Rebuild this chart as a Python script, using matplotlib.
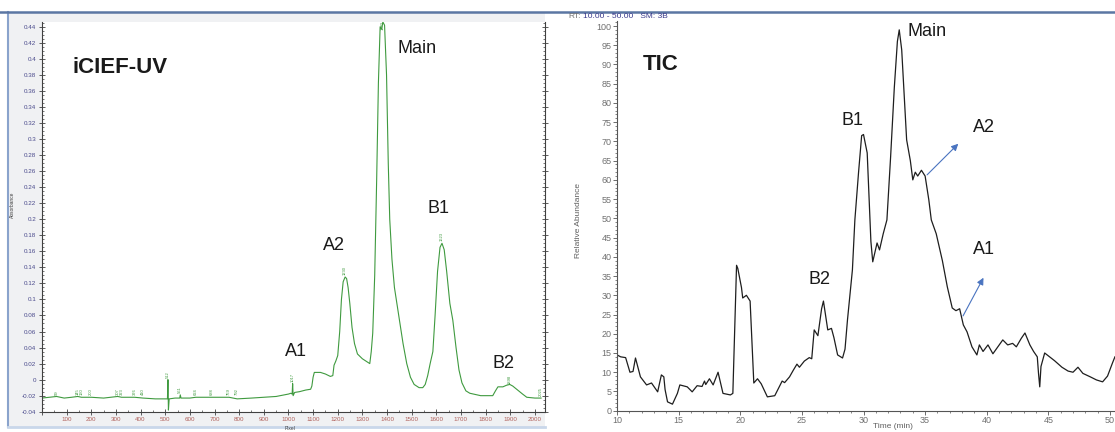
import matplotlib.pyplot as plt
import matplotlib.ticker as mticker
from matplotlib.patches import Rectangle
from matplotlib.lines import Line2D

plt.rcParams['font.family'] = ['Liberation Sans', 'DejaVu Sans']

# --- iCIEF-UV trace (x in pixel units, absorbance) ---
uv_pixel = [0, 30, 59, 90, 120, 145, 160, 200, 250, 307, 323, 376, 410, 460, 505,
            509, 511, 513, 516, 540, 559, 561, 564, 600, 624, 688, 759, 792, 850,
            900, 950, 1000, 1010, 1015, 1017, 1019, 1025, 1045, 1070, 1090, 1095,
            1100, 1105, 1130, 1150, 1170, 1180, 1185, 1192, 1200, 1208, 1215, 1222,
            1230, 1236, 1242, 1249, 1258, 1268, 1280, 1300, 1320, 1330, 1336, 1342,
            1350, 1358, 1365, 1372, 1378, 1383, 1390, 1398, 1405, 1411, 1420, 1430,
            1440, 1450, 1465, 1480, 1495, 1510, 1530, 1545, 1555, 1565, 1575, 1586,
            1595, 1605, 1615, 1623, 1632, 1642, 1655, 1667, 1680, 1692, 1704, 1720,
            1736, 1780, 1829, 1840, 1850, 1870, 1885, 1898, 1910, 1930, 1950, 1967,
            2000, 2025]
uv_abs = [-0.023, -0.022, -0.021, -0.023, -0.022, -0.021, -0.022, -0.022, -0.023,
          -0.021, -0.022, -0.022, -0.023, -0.024, -0.024, -0.024, 0.0, -0.038,
          -0.024, -0.023, -0.023, -0.019, -0.023, -0.023, -0.022, -0.022, -0.022,
          -0.024, -0.023, -0.022, -0.021, -0.018, -0.017, -0.018, -0.005, -0.02,
          -0.016, -0.015, -0.013, -0.012, -0.008, 0.003, 0.009, 0.009, 0.007, 0.004,
          0.005, 0.018, 0.023, 0.03, 0.06, 0.1, 0.122, 0.128, 0.126, 0.115, 0.095,
          0.065, 0.045, 0.032, 0.026, 0.022, 0.02, 0.035, 0.058, 0.13, 0.25, 0.37,
          0.44, 0.437, 0.446, 0.442, 0.38, 0.27, 0.2, 0.15, 0.115, 0.095, 0.075,
          0.045, 0.02, 0.003, -0.006, -0.01, -0.01, -0.006, 0.005, 0.02, 0.035, 0.08,
          0.135, 0.165, 0.17, 0.162, 0.135, 0.095, 0.074, 0.04, 0.012, -0.004,
          -0.014, -0.017, -0.02, -0.02, -0.014, -0.009, -0.009, -0.007, -0.006,
          -0.008, -0.013, -0.018, -0.022, -0.023, -0.023]

uv_peak_pos = [59, 145, 160, 200, 307, 323, 376, 410, 512, 561, 624, 688, 759, 792,
               1017, 1230, 1383, 1623, 1898, 2025]
uv_peak_y = [-0.019, -0.019, -0.019, -0.019, -0.019, -0.019, -0.019, -0.019, 0.002,
             -0.017, -0.019, -0.019, -0.019, -0.019, -0.003, 0.131, 0.436, 0.173,
             -0.005, -0.02]

uv_labels = ['Main', 'B1', 'A2', 'A1', 'B2']
uv_label_x = [1444, 1565, 1139, 985, 1830]
uv_label_y = [0.413, 0.2136, 0.1675, 0.0345, 0.0205]

# --- TIC trace (time in min, relative abundance) ---
tic_time = [10.0, 10.3, 10.7, 11.05, 11.3, 11.5, 11.9, 12.4, 12.8, 13.3, 13.6, 13.8,
            13.9, 14.1, 14.5, 14.9, 15.1, 15.7, 16.1, 16.5, 16.9, 17.1, 17.2, 17.5,
            17.8, 18.2, 18.6, 19.2, 19.4, 19.7, 19.8, 20.1, 20.2, 20.5, 20.8, 21.1,
            21.4, 21.7, 22.2, 22.8, 23.4, 23.6, 24.0, 24.3, 24.6, 24.8, 25.2, 25.6,
            25.8, 26.0, 26.3, 26.6, 26.75, 27.1, 27.4, 27.6, 27.9, 28.3, 28.5, 28.7,
            29.1, 29.3, 29.6, 29.85, 30.0, 30.3, 30.5, 30.6, 30.75, 31.1, 31.3, 31.6,
            31.9, 32.2, 32.5, 32.75, 32.9, 33.1, 33.5, 33.8, 34.0, 34.2, 34.4, 34.7,
            35.0, 35.3, 35.5, 35.9, 36.4, 36.8, 37.2, 37.5, 37.8, 38.1, 38.4, 38.8,
            39.2, 39.4, 39.7, 40.1, 40.5, 40.9, 41.3, 41.7, 42.1, 42.4, 42.8, 43.1,
            43.5, 43.8, 44.1, 44.2, 44.3, 44.4, 44.7, 45.1, 45.5, 46.1, 46.6, 47.0,
            47.4, 47.8, 48.4, 48.9, 49.4, 49.8, 50.2, 50.4]
tic_abund = [14.5, 14.0, 13.8, 10.0, 10.2, 13.7, 8.8, 6.7, 7.2, 4.9, 9.3, 8.8, 5.5,
             2.3, 1.7, 4.5, 6.7, 6.2, 4.9, 6.5, 6.3, 7.7, 6.8, 8.3, 6.7, 10.0, 4.5,
             4.1, 4.5, 37.8, 37.0, 32.0, 29.3, 30.0, 28.5, 7.2, 8.3, 7.0, 3.6, 3.9,
             7.7, 7.3, 8.8, 10.5, 12.1, 11.3, 12.9, 13.8, 13.5, 21.0, 19.5, 26.5,
             28.5, 21.0, 21.4, 19.0, 14.5, 13.7, 16.0, 23.6, 36.6, 49.6, 62.0, 71.5,
             71.8, 67.0, 52.0, 44.0, 38.7, 43.6, 41.8, 46.0, 49.6, 66.0, 84.0, 96.0,
             99.0, 93.8, 70.4, 65.0, 60.0, 62.0, 61.0, 62.5, 61.0, 54.8, 49.6, 46.0,
             39.0, 32.2, 26.7, 26.0, 26.5, 22.3, 20.5, 16.6, 14.5, 17.1, 15.4, 17.1,
             14.8, 16.6, 18.4, 17.1, 17.5, 16.6, 18.8, 20.2, 17.1, 15.4, 14.0, 9.7,
             6.2, 11.5, 15.0, 14.0, 13.0, 11.3, 10.3, 10.0, 11.3, 9.7, 8.8, 8.0, 7.5,
             9.0, 12.4, 14.0]

tic_labels = ['TIC', 'Main', 'B1', 'B2', 'A2', 'A1']
tic_label_x = [12.1, 33.6, 28.25, 25.5, 38.9, 38.9]
tic_label_y = [90, 98.5, 75.5, 34, 73.5, 41.8]
arrow_from = [(35.0, 60.8), (37.97, 24.0)]
arrow_to = [(37.85, 69.9), (39.84, 35.2)]

W, H = 1115, 432
fig = plt.figure(figsize=(W / 100, H / 100), dpi=100)


def box(x0, y0, x1, y1):
    # pixel box (top-left origin) -> figure fraction rect
    return [x0 / W, 1 - y1 / H, (x1 - x0) / W, (y1 - y0) / H]


# window frames of the two screenshots
fig.add_artist(Rectangle((8 / W, 1 - 427 / H), 537 / W, 415 / H, transform=fig.transFigure,
                         facecolor='#f0f1f3', edgecolor='none', zorder=0))
fig.add_artist(Line2D([8 / W, 8 / W], [1 - 427 / H, 1 - 12 / H], transform=fig.transFigure,
                      color='#8aa3cc', lw=1.5))
fig.add_artist(Line2D([0, 1], [1 - 12 / H, 1 - 12 / H], transform=fig.transFigure,
                      color='#5b76a3', lw=1.8))
fig.add_artist(Line2D([8 / W, 545 / W], [1 - 427 / H, 1 - 427 / H], transform=fig.transFigure,
                      color='#c9d7ea', lw=2))

# ---------------- left: iCIEF-UV ----------------
ax1 = fig.add_axes(box(42, 22, 545, 411.7))
ax1.plot(uv_pixel, uv_abs, color='#3f9a3f', lw=0.8)
ax1.set_xlim(0, 2041)
ax1.set_ylim(-0.04, 0.446)
ax1.spines['top'].set_visible(False)
for s in ['left', 'bottom', 'right']:
    ax1.spines[s].set_color('#404040')
    ax1.spines[s].set_linewidth(0.8)
ax1.xaxis.set_major_locator(mticker.MultipleLocator(100))
ax1.xaxis.set_minor_locator(mticker.MultipleLocator(50))
ax1.yaxis.set_major_locator(mticker.MultipleLocator(0.02))
ax1.yaxis.set_minor_locator(mticker.MultipleLocator(0.005))
ax1.xaxis.set_major_formatter(mticker.FuncFormatter(lambda v, p: '' if v < 50 else f'{v:.0f}'))
ax1.yaxis.set_major_formatter(mticker.FuncFormatter(lambda v, p: f'{round(v, 2):g}'))
ax1.tick_params(which='major', direction='inout', length=4, width=0.6, color='#404040',
                labelsize=4.5, pad=2)
ax1.tick_params(which='minor', direction='in', length=1.5, width=0.5, color='#404040')
ax1.tick_params(axis='x', labelcolor='#b0605a')
ax1.tick_params(axis='y', labelcolor='#4a4a8c', right=True, which='both')

for xp, yp in zip(uv_peak_pos, uv_peak_y):
    ax1.text(xp, yp, f'{xp}', rotation=90, fontsize=3, color='#3f9a3f',
             ha='center', va='bottom')

ax1.text(124, 0.389, 'iCIEF-UV', fontsize=16, fontweight='bold', va='center', color='#1a1a1a')
for t, xv, yv in zip(uv_labels, uv_label_x, uv_label_y):
    ax1.text(xv, yv, t, fontsize=13, va='center', color='#1a1a1a')

fig.text(12 / W, 1 - 205 / H, 'Absorbance', rotation=90, fontsize=3.5, color='#404040',
         ha='center', va='center')
fig.text(290 / W, 1 - 428 / H, 'Pixel', fontsize=3.5, color='#404040', ha='center',
         va='center')

# ---------------- right: TIC ----------------
ax2 = fig.add_axes(box(617, 21, 1115, 410.7))
ax2.plot(tic_time, tic_abund, color='#1e1e1e', lw=0.9)
ax2.set_xlim(10, 10 + 498 / 12.325)
ax2.set_ylim(0, 101.3)
ax2.spines['top'].set_visible(False)
ax2.spines['right'].set_visible(False)
for s in ['left', 'bottom']:
    ax2.spines[s].set_color('#555555')
    ax2.spines[s].set_linewidth(0.8)
ax2.xaxis.set_major_locator(mticker.MultipleLocator(5))
ax2.xaxis.set_minor_locator(mticker.MultipleLocator(1))
ax2.yaxis.set_major_locator(mticker.MultipleLocator(5))
ax2.yaxis.set_minor_locator(mticker.MultipleLocator(1))
ax2.tick_params(which='major', direction='out', length=3, width=0.6, color='#555555',
                labelsize=6.5, labelcolor='#707070', pad=1)
ax2.tick_params(which='minor', direction='out', length=1.5, width=0.5, color='#555555')

for t, xv, yv in zip(tic_labels, tic_label_x, tic_label_y):
    if t == 'TIC':
        ax2.text(xv, yv, t, fontsize=16, fontweight='bold', va='center', color='#1a1a1a')
    else:
        ax2.text(xv, yv, t, fontsize=13, va='center', color='#1a1a1a')
for a, b in zip(arrow_from, arrow_to):
    ax2.annotate('', xy=b, xytext=a,
                 arrowprops=dict(arrowstyle='-|>', color='#4a74c0', lw=0.8, mutation_scale=10))

fig.text(578 / W, 1 - 220 / H, 'Relative Abundance', rotation=90, fontsize=6,
         color='#606060', ha='center', va='center')
fig.text(893 / W, 1 - 427 / H, 'Time (min)', fontsize=6, color='#606060',
         ha='center', va='center')
fig.text(568 / W, 1 - 17 / H, 'RT:', fontsize=6, color='#707070', va='center')
fig.text(583 / W, 1 - 17 / H, '10.00 - 50.00   SM: 3B', fontsize=6, color='#3a3a8c',
         va='center')

fig.savefig('out.png', dpi=100)
